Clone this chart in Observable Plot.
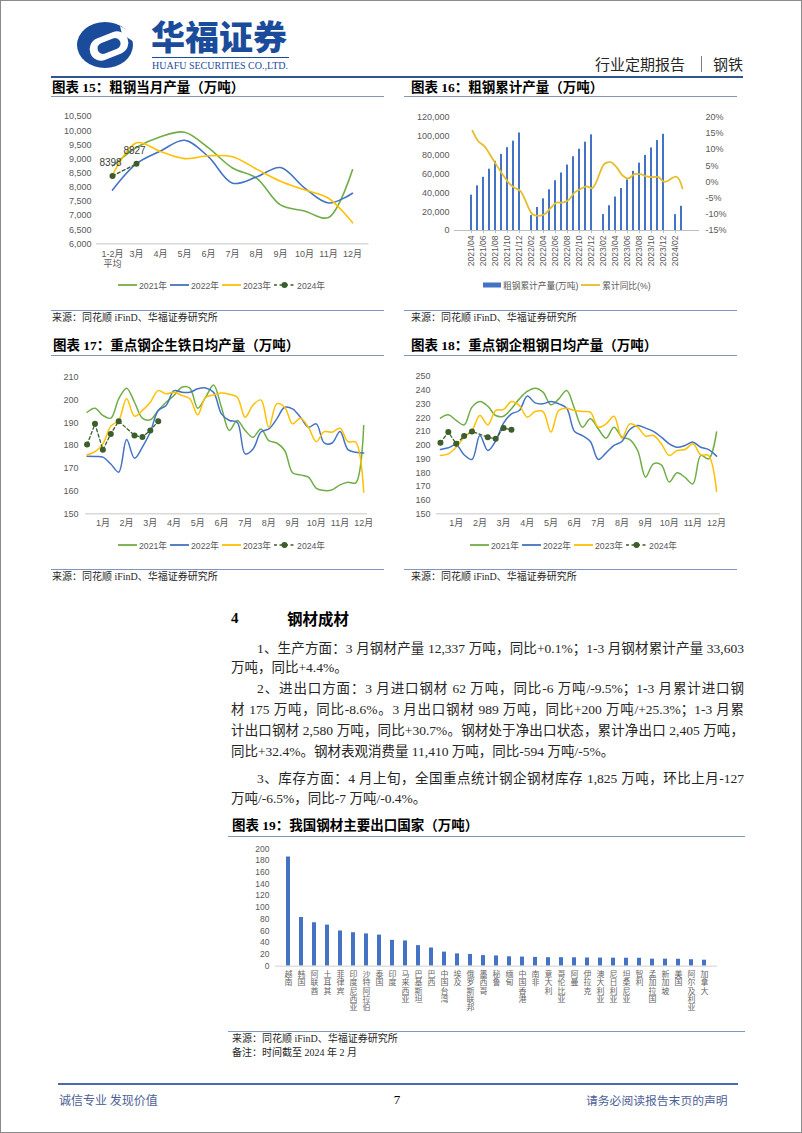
<!DOCTYPE html>
<html><head><meta charset="utf-8">
<script src="https://cdn.jsdelivr.net/npm/d3@7"></script>
<script src="https://cdn.jsdelivr.net/npm/@observablehq/plot@0.6"></script>
<style>
body{margin:0;background:#fff;}
#page{position:relative;width:802px;height:1133px;background:#fff;overflow:hidden;font-family:"Liberation Serif","Noto Sans CJK SC",serif;color:#262626;}
.abs{position:absolute;white-space:nowrap;}
.frame{position:absolute;left:0;top:0;width:802px;height:1133px;box-sizing:border-box;border:1px solid #8a8a8a;pointer-events:none;}
.bl{position:absolute;font-size:13.5px;line-height:20px;height:20px;overflow:visible;}
.j{text-align:justify;text-align-last:justify;white-space:normal;}
.lg{position:absolute;display:flex;align-items:center;height:12px;font-family:"Liberation Sans","Noto Sans CJK SC",sans-serif;font-size:8.7px;color:#595959;white-space:nowrap;}
.lg svg{margin-right:2px;}
.lg span{margin-right:3px;}
</style></head><body><div id="page"></div>
<script>
// ---------------- DATA ----------------
// 图表15 粗钢当月产量（万吨）
const c15Cats = ["1-2月\n平均","3月","4月","5月","6月","7月","8月","9月","10月","11月","12月"];
const c15_2021 = [8750, 9402, 9785, 9945, 9389, 8679, 8324, 7375, 7158, 6931, 8619];
const c15_2022 = [7898, 8830, 9278, 9661, 9073, 8143, 8361, 8695, 7976, 7441, 7788];
const c15_2023 = [8435, 9573, 9264, 9012, 9111, 9080, 8641, 8211, 7909, 7610, 6744];
const c15_2024 = [8398, 8827];
const c15Ticks = [6000, 6500, 7000, 7500, 8000, 8500, 9000, 9500, 10000, 10500];

// 图表16 粗钢累计产量（万吨）与累计同比（%）
const c16Months = ["2021/04","2021/05","2021/06","2021/07","2021/08","2021/09","2021/10","2021/11","2021/12",
  "2022/01","2022/02","2022/03","2022/04","2022/05","2022/06","2022/07","2022/08","2022/09","2022/10","2022/11","2022/12",
  "2023/01","2023/02","2023/03","2023/04","2023/05","2023/06","2023/07","2023/08","2023/09","2023/10","2023/11","2023/12",
  "2024/01","2024/02","2024/03"];
const c16Cum = [37404, 47316, 56333, 64933, 73241, 80589, 87711, 94640, 103279,
  null, 15796, 24338, 33573, 43102, 52688, 60933, 69284, 78114, 86057, 93543, 101300,
  null, 16870, 26156, 35439, 44491, 53564, 62656, 71332, 79545, 87437, 95214, 101908,
  null, 16796, 25655];
const c16Yoy = [15.8, 12.5, 11.0, 8.2, 5.2, 2.4, -0.2, -1.8, -2.8,
  null, -10.0, -10.5, -10.0, -8.1, -6.4, -6.4, -5.6, -3.3, -2.2, -1.4, -1.9,
  null, 5.6, 6.1, 4.6, 2.0, 1.1, 2.4, 2.4, 1.7, 1.5, 1.5, 0.0,
  null, 1.6, -2.0];
const c16LeftTicks = [0, 20000, 40000, 60000, 80000, 100000, 120000];
const c16RightTicks = [-15, -10, -5, 0, 5, 10, 15, 20];

// 图表17 重点钢企生铁日均产量（万吨），每旬一个点
const c17_2021 = [194.6,196.4,193.2,192.0,200.5,205.2,199.0,192.0,191.3,195.4,199.0,202.0,205.6,205.2,196.4,201.2,206.6,196.8,186.6,191.0,186.6,183.6,187.3,182.1,181.1,177.8,168.0,167.1,166.1,161.2,160.2,160.5,162.7,163.9,163.6,188.8];
const c17_2022 = [175.3,175.2,174.9,171.9,168.3,182.6,174.4,179.3,185.9,195.4,197.6,204.1,203.4,203.4,204.9,205.3,203.4,193.9,191.0,190.2,176.3,178.5,185.9,187.3,191.7,196.8,196.1,192.4,188.0,189.5,181.1,181.1,186.1,178.2,177.0,176.7];
const c17_2023 = [175.9,177.3,180.7,188.5,191.0,200.5,192.9,195.4,199.0,204.1,202.7,203.4,202.0,200.5,193.5,201.2,202.2,203.1,202.5,201.2,192.4,197.8,200.0,188.0,198.3,196.8,189.5,192.0,188.0,181.7,186.1,185.8,187.6,181.7,181.4,159.5];
const c17_2024 = [180.4,189.5,178.1,185.1,190.7,null,184.4,183.7,186.6,190.7];

// 图表18 重点钢企粗钢日均产量（万吨）
const c18_2021 = [219.7,222.1,218.0,214.8,227.7,231.8,228.4,221.6,221.1,226.5,233.7,239.1,241.5,238.6,229.4,233.7,239.8,226.5,213.1,219.2,211.9,205.1,213.1,205.8,204.1,196.1,176.7,186.4,185.7,173.1,179.9,176.5,171.8,192.5,190.0,209.5];
const c18_2022 = [196.8,198.1,200.2,193.0,189.6,207.0,196.1,203.0,216.0,222.8,225.2,235.7,230.8,230.1,231.8,230.1,226.9,210.0,207.0,202.7,189.6,194.4,199.8,202.7,211.4,214.3,212.4,210.0,205.8,201.0,198.5,199.8,202.2,198.5,196.8,192.0];
const c18_2023 = [192.5,193.7,198.5,205.8,210.7,221.6,214.8,225.2,226.0,231.8,228.9,220.4,224.5,224.5,209.5,225.2,226.9,225.2,224.5,224.0,213.1,215.5,221.1,205.1,215.5,213.1,206.6,207.0,201.0,192.5,196.1,196.8,201.0,193.0,192.5,166.3];
const c18_2024 = [201.7,209.5,201.0,206.6,210.0,null,205.8,204.6,212.4,211.2];

const dailyMonthTicks = [2, 5, 8, 11, 14, 17, 20, 23, 26, 29, 32, 35];
const dailyMonthLabels = ["1月","2月","3月","4月","5月","6月","7月","8月","9月","10月","11月","12月"];
const c17Ticks = [150, 160, 170, 180, 190, 200, 210];
const c18Ticks = [150, 160, 170, 180, 190, 200, 210, 220, 230, 240, 250];

// 图表19 我国钢材主要出口国家（万吨）
const c19Countries = ["越南","韩国","阿联酋","土耳其","菲律宾","印度尼西亚","沙特阿拉伯","泰国","印度","马来西亚","巴基斯坦","巴西","中国台湾","埃及","俄罗斯联邦","墨西哥","秘鲁","缅甸","中国香港","南非","意大利","哥伦比亚","阿曼","伊拉克","澳大利亚","尼日利亚","坦桑尼亚","智利","孟加拉国","新加坡","美国","阿尔及利亚","加拿大"];
const c19Values = [186, 83, 74, 70, 60, 57, 55, 53, 44, 43, 35, 31, 24, 21, 20, 18, 17.5, 16, 15.5, 15, 14.5, 14.5, 14.3, 14, 13.8, 13.7, 13.6, 13.5, 12, 12, 11.8, 11, 10.2];
const c19Ticks = [0, 20, 40, 60, 80, 100, 120, 140, 160, 180, 200];

// colours
const GREEN = "#70ad47", BLUE = "#4472c4", YELLOW = "#ffc000", DARK = "#3b5e2b";
const seriesNames = ["2021年","2022年","2023年"];
const seriesColors = [GREEN, BLUE, YELLOW];

// ---------------- PAGE HELPERS ----------------
const page = document.getElementById("page");
function txt(x, yc, str, o = {}) {
  const size = o.size || 12;
  const d = document.createElement("div");
  d.className = "abs";
  d.style.left = x + "px";
  d.style.top = (yc - size * 0.6) + "px";
  d.style.fontSize = size + "px";
  d.style.lineHeight = (size * 1.2) + "px";
  if (o.weight) d.style.fontWeight = o.weight;
  d.style.color = o.color || "#262626";
  if (o.family) d.style.fontFamily = o.family;
  if (o.ls) d.style.letterSpacing = o.ls + "px";
  if (o.anchor === "end") d.style.transform = "translateX(-100%)";
  if (o.anchor === "middle") d.style.transform = "translateX(-50%)";
  d.textContent = str;
  page.appendChild(d);
  return d;
}
function hline(x1, x2, y, color, h = 1) {
  const d = document.createElement("div");
  d.style.cssText = `position:absolute;left:${x1}px;top:${y}px;width:${x2 - x1}px;height:${h}px;background:${color}`;
  page.appendChild(d);
}
function place(el, x, y) {
  el.style.position = "absolute";
  el.style.left = x + "px";
  el.style.top = y + "px";
  page.appendChild(el);
}
function legend(x, yc, items) {
  const d = document.createElement("div");
  d.className = "lg";
  d.style.left = x + "px";
  d.style.top = (yc - 6) + "px";
  let html = "";
  for (const it of items) {
    if (it.type === "bar") {
      html += `<svg width="18" height="12"><rect x="0" y="3.5" width="18" height="5" fill="${it.color}"/></svg>`;
    } else if (it.type === "dash") {
      html += `<svg width="21" height="12"><line x1="0" y1="6" x2="21" y2="6" stroke="${it.color}" stroke-width="1.4" stroke-dasharray="3,2.5"/><circle cx="10.5" cy="6" r="3" fill="${it.color}"/></svg>`;
    } else {
      html += `<svg width="19" height="12"><line x1="0" y1="6" x2="19" y2="6" stroke="${it.color}" stroke-width="1.8"/></svg>`;
    }
    html += `<span>${it.label}</span>`;
  }
  d.innerHTML = html;
  page.appendChild(d);
}
const titleFont = '"Liberation Serif","Noto Sans CJK SC",serif';
function chartTitle(x, yc, str) { txt(x, yc, str, {size: 13.5, weight: 700, color: "#000", family: titleFont}); }
function source(x, yc, str) { txt(x, yc, str, {size: 10, color: "#262626", family: titleFont}); }

const plotStyle = {background: "transparent", fontFamily: '"Liberation Sans","Noto Sans CJK SC",sans-serif', fontSize: "9px", color: "#595959", overflow: "visible"};

// ---------------- HEADER ----------------
const logo = document.createElement("div");
logo.innerHTML = `<svg width="60" height="50" viewBox="0 0 60 50">
  <ellipse cx="29" cy="25" rx="28" ry="23" fill="#1b4c9c"/>
  <g transform="rotate(-22 33 26)">
    <rect x="13" y="14.5" width="40" height="23" rx="11.5" fill="#fff"/>
    <rect x="21" y="20.5" width="24" height="11" rx="5.5" fill="#1b4c9c"/>
  </g>
  <path d="M44 6 L58 14 L58 22 L46 14 Z" fill="#fff"/>
</svg>`;
place(logo, 76, 20);
txt(151, 36, "华福证券", {size: 34, weight: 900, color: "#1b4c9c", family: '"Noto Sans CJK SC",sans-serif', ls: 0});
hline(152, 289, 57, "#1b4c9c", 1);
const sub = document.createElement("div");
sub.style.overflow = "visible";
sub.innerHTML = `<svg width="140" height="15" style="overflow:visible"><text x="0" y="10" textLength="136" lengthAdjust="spacingAndGlyphs" font-family="Liberation Serif" font-size="10.5" fill="#1b4c9c">HUAFU SECURITIES CO.,LTD.</text></svg>`;
place(sub, 152, 59);
txt(595, 64, "行业定期报告", {size: 15, color: "#262626", family: '"Noto Sans CJK SC",sans-serif'});
hline(701, 702, 56, "#7f7f7f", 16);
txt(713, 64, "钢铁", {size: 15, color: "#262626", family: '"Noto Sans CJK SC",sans-serif'});
hline(51, 743, 75.5, "#2f5597", 2);

// ---------------- CHART 15 ----------------
chartTitle(52, 88, "图表 15：粗钢当月产量（万吨）");
chartTitle(411, 88, "图表 16：粗钢累计产量（万吨）");
hline(51, 384, 96, "#8497b0", 1);
hline(404, 737, 96, "#8497b0", 1);

const c15Rows = [];
[c15_2021, c15_2022, c15_2023].forEach((arr, k) => arr.forEach((v, i) => c15Rows.push({s: seriesNames[k], cat: c15Cats[i], v})));
const c15Now = c15_2024.map((v, i) => ({cat: c15Cats[i], v}));

const p15 = Plot.plot({
  width: 330, height: 172, marginTop: 16, marginBottom: 28.7, marginLeft: 46, marginRight: 11.5,
  style: plotStyle,
  x: {type: "point", domain: c15Cats, padding: 0.5},
  y: {domain: [6000, 10500]},
  color: {domain: seriesNames, range: seriesColors},
  marks: [
    Plot.ruleY([6000], {stroke: "#d9d9d9", strokeWidth: 1.4}),
    Plot.axisY(c15Ticks, {tickSize: 0, tickPadding: 5, tickFormat: d3.format(","), label: null, fontSize: 9}),
    Plot.axisX({tickSize: 0, tickPadding: 6, label: null, fontSize: 9, lineHeight: 1.1}),
    Plot.line(c15Rows, {x: "cat", y: "v", stroke: "s", z: "s", curve: "catmull-rom", strokeWidth: 1.6}),
    Plot.line(c15Now, {x: "cat", y: "v", stroke: DARK, strokeWidth: 1.4, strokeDasharray: "3,2.5"}),
    Plot.dot(c15Now, {x: "cat", y: "v", r: 3, fill: DARK}),
    Plot.text(c15Now, {x: "cat", y: "v", text: d => String(d.v), dy: -13, dx: -2, fontSize: 10, fill: "#404040"})
  ]
});
place(p15, 50, 100);
legend(118, 285, [
  {label: "2021年", color: GREEN}, {label: "2022年", color: BLUE},
  {label: "2023年", color: YELLOW}, {label: "2024年", color: DARK, type: "dash"}
]);

// ---------------- CHART 16 ----------------
const c16Bars = c16Months.map((m, i) => ({m, v: c16Cum[i]})).filter(d => d.v != null);
const c16Line = c16Months.map((m, i) => ({m, v: c16Yoy[i]})).filter(d => d.v != null);
const c16Dims = {width: 333, height: 175, marginTop: 16.7, marginBottom: 45, marginLeft: 50, marginRight: 38};

const p16a = Plot.plot({
  ...c16Dims, style: plotStyle,
  x: {type: "band", domain: c16Months, paddingInner: 0.6, paddingOuter: 0.3},
  y: {domain: [0, 120000]},
  marks: [
    Plot.barY(c16Bars, {x: "m", y: "v", fill: BLUE}),
    Plot.ruleY([0], {stroke: "#bfbfbf", strokeWidth: 1}),
    Plot.axisY(c16LeftTicks, {tickSize: 0, tickPadding: 5, tickFormat: d3.format(","), label: null, fontSize: 9}),
    Plot.axisX(c16Months.filter((d, i) => i % 2 === 0), {tickRotate: -90, tickSize: 3, tickPadding: 2, label: null, fontSize: 8.5, stroke: "#bfbfbf"})
  ]
});
place(p16a, 404, 100);
const p16b = Plot.plot({
  ...c16Dims, style: plotStyle,
  x: {type: "point", domain: c16Months, padding: 0.5, axis: null},
  y: {domain: [-15, 20]},
  marks: [
    Plot.axisY(c16RightTicks, {anchor: "right", tickSize: 0, tickPadding: 6, tickFormat: d => d + "%", label: null, fontSize: 9}),
    Plot.line(c16Line, {x: "m", y: "v", stroke: "#e6bd2a", strokeWidth: 1.8, curve: "catmull-rom"})
  ]
});
place(p16b, 404, 100);
legend(483, 285, [
  {label: "粗钢累计产量(万吨)", color: BLUE, type: "bar"},
  {label: "累计同比(%)", color: "#e6bd2a"}
]);

source(52, 318, "来源：同花顺 iFinD、华福证券研究所");
source(411, 318, "来源：同花顺 iFinD、华福证券研究所");
hline(51, 384, 310, "#7f96c4", 1);
hline(404, 737, 310, "#7f96c4", 1);

// ---------------- CHART 17 / 18 ----------------
function dailyChart(series2124, ticks, yDomain, dims, x0, y0) {
  const rows = [];
  series2124.slice(0, 3).forEach((arr, k) => arr.forEach((v, i) => rows.push({s: seriesNames[k], i, v})));
  const now = series2124[3].map((v, i) => ({i, v})).filter(d => d.v != null);
  const p = Plot.plot({
    ...dims, style: plotStyle,
    x: {domain: dims.xDomain},
    y: {domain: yDomain},
    color: {domain: seriesNames, range: seriesColors},
    marks: [
      Plot.ruleY([yDomain[0]], {stroke: "#d9d9d9", strokeWidth: 1.4}),
      Plot.axisY(ticks, {tickSize: 0, tickPadding: dims.yPad, label: null, fontSize: 9}),
      Plot.axisX(dailyMonthTicks, {tickSize: 0, tickPadding: 6, label: null, fontSize: 9,
        tickFormat: d => dailyMonthLabels[dailyMonthTicks.indexOf(d)]}),
      Plot.line(rows, {x: "i", y: "v", stroke: "s", z: "s", curve: "catmull-rom", strokeWidth: 1.5}),
      Plot.line(now, {x: "i", y: "v", stroke: DARK, strokeWidth: 1.3, strokeDasharray: "3,2.5"}),
      Plot.dot(now, {x: "i", y: "v", r: 3, fill: DARK})
    ]
  });
  place(p, x0, y0);
}
chartTitle(53, 346, "图表 17：重点钢企生铁日均产量（万吨）");
chartTitle(411, 346, "图表 18：重点钢企粗钢日均产量（万吨）");
hline(51, 384, 355, "#8497b0", 1);
hline(404, 737, 355, "#8497b0", 1);

dailyChart([c17_2021, c17_2022, c17_2023, c17_2024], c17Ticks, [150, 210],
  {width: 325, height: 170, marginTop: 11.7, marginBottom: 21.7, marginLeft: 35, marginRight: 8, xDomain: [-0.2, 35.48], yPad: 7}, 50, 365);
dailyChart([c18_2021, c18_2022, c18_2023, c18_2024], c18Ticks, [150, 250],
  {width: 333, height: 170, marginTop: 11, marginBottom: 21.7, marginLeft: 32, marginRight: 17, xDomain: [-0.5, 35.5], yPad: 6}, 404, 365);

legend(118, 545, [
  {label: "2021年", color: GREEN}, {label: "2022年", color: BLUE},
  {label: "2023年", color: YELLOW}, {label: "2024年", color: DARK, type: "dash"}
]);
legend(470, 545, [
  {label: "2021年", color: GREEN}, {label: "2022年", color: BLUE},
  {label: "2023年", color: YELLOW}, {label: "2024年", color: DARK, type: "dash"}
]);
hline(51, 384, 569, "#7f96c4", 1);
hline(404, 737, 569, "#7f96c4", 1);
source(52, 577, "来源：同花顺 iFinD、华福证券研究所");
source(411, 577, "来源：同花顺 iFinD、华福证券研究所");

// ---------------- TEXT SECTION ----------------
txt(231, 618, "4", {size: 15, weight: 700, color: "#000", family: titleFont});
txt(287, 618, "钢材成材", {size: 15.5, weight: 700, color: "#000", family: '"Noto Sans CJK SC",sans-serif'});
const bodyLines = [
  {t: "1、生产方面：3 月钢材产量 12,337 万吨，同比+0.1%；1-3 月钢材累计产量 33,603", y: 649, indent: true, j: true},
  {t: "万吨，同比+4.4%。", y: 668},
  {t: "2、进出口方面：3 月进口钢材 62 万吨，同比-6 万吨/-9.5%；1-3 月累计进口钢", y: 689, indent: true, j: true},
  {t: "材 175 万吨，同比-8.6%。3 月出口钢材 989 万吨，同比+200 万吨/+25.3%；1-3 月累", y: 710, j: true},
  {t: "计出口钢材 2,580 万吨，同比+30.7%。钢材处于净出口状态，累计净出口 2,405 万吨，", y: 731, j: true},
  {t: "同比+32.4%。钢材表观消费量 11,410 万吨，同比-594 万吨/-5%。", y: 752},
  {t: "3、库存方面：4 月上旬，全国重点统计钢企钢材库存 1,825 万吨，环比上月-127", y: 779, indent: true, j: true},
  {t: "万吨/-6.5%，同比-7 万吨/-0.4%。", y: 799}
];
for (const L of bodyLines) {
  const d = document.createElement("div");
  d.className = "bl" + (L.j ? " j" : "");
  const left = L.indent ? 257 : 231;
  d.style.left = left + "px";
  d.style.width = (744 - left) + "px";
  d.style.top = (L.y - 10) + "px";
  if (!L.j) d.style.whiteSpace = "nowrap";
  d.textContent = L.t;
  page.appendChild(d);
}

// ---------------- CHART 19 ----------------
chartTitle(232, 826, "图表 19：我国钢材主要出口国家（万吨）");
hline(228, 745, 836, "#8497b0", 1);
const c19Rows = c19Countries.map((c, i) => ({c, v: c19Values[i]}));
const p19 = Plot.plot({
  width: 517, height: 180, marginTop: 8.3, marginBottom: 54.3, marginLeft: 47, marginRight: 28,
  style: plotStyle,
  x: {type: "band", domain: c19Countries, paddingInner: 0.7, paddingOuter: 0.35},
  y: {domain: [0, 200]},
  marks: [
    Plot.barY(c19Rows, {x: "c", y: "v", fill: BLUE}),
    Plot.ruleY([0], {stroke: "#d9d9d9", strokeWidth: 1.2}),
    Plot.axisY(c19Ticks, {tickSize: 0, tickPadding: 6, label: null, fontSize: 8.5}),
    Plot.axisX({tickSize: 0, tickPadding: 5, label: null, fontSize: 8, lineHeight: 1.04, fill: "#666",
      tickFormat: d => d.split("").join("\n")})
  ]
});
place(p19, 228, 840);
hline(228, 745, 1031, "#7f96c4", 1);
source(232, 1039, "来源：同花顺 iFinD、华福证券研究所");
source(232, 1053, "备注：时间截至 2024 年 2 月");

// ---------------- FOOTER ----------------
hline(58, 738, 1083, "#4a6aa8", 1.5);
txt(59, 1100, "诚信专业  发现价值", {size: 12, color: "#4e5f96", family: '"Noto Sans CJK SC",sans-serif'});
txt(397, 1100, "7", {size: 13, color: "#000", family: "Liberation Serif", anchor: "middle"});
txt(586, 1100, "请务必阅读报告末页的声明", {size: 11.8, color: "#4e5f96", family: '"Noto Sans CJK SC",sans-serif'});

const fr = document.createElement("div"); fr.className = "frame"; page.appendChild(fr);
</script></body></html>
